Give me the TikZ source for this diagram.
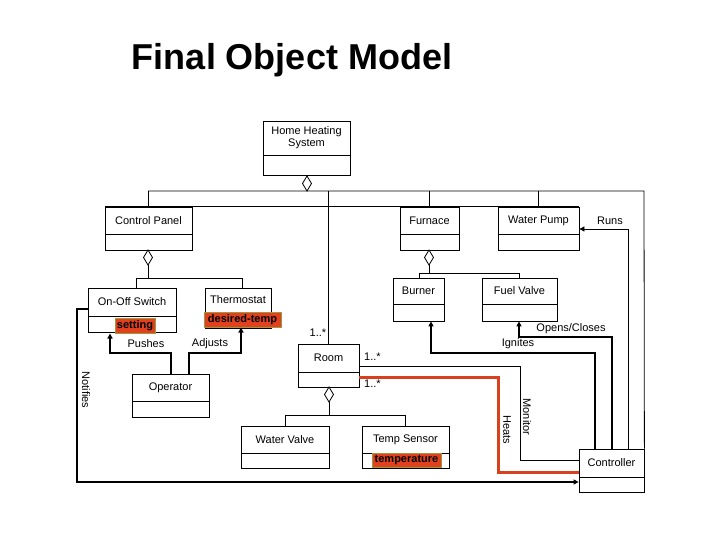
\documentclass[tikz,border=0pt]{standalone}
\usepackage{fontspec}
\setmainfont{Liberation Sans}
\usetikzlibrary{arrows.meta,fit}
\definecolor{hl}{HTML}{E2401E}
\definecolor{hlb}{HTML}{9A9A40}
\definecolor{heat}{HTML}{D9401E}
\tikzset{
  lbl/.style={font=\fontsize{11}{13}\selectfont, inner sep=0pt},
  box/.style={draw, inner sep=0pt, line width=0.8pt},
  thin/.style={line width=0.8pt},
  thick2/.style={line width=2pt},
  arr/.style={-{Triangle[length=5pt,width=5pt]}},
  dia/.style={draw, fill=white, line width=0.8pt},
  hlbox/.style={fill=hl, draw=hlb, line width=0.6pt, inner sep=0pt, font=\bfseries\fontsize{11}{13}\selectfont},
}
\newcommand\umlbox[7]{%
  \node[box, fit={(#2,#3)(#4,#5)}] (#1) {};
  \draw[thin] (#2,#6) -- (#4,#6);
  \node[lbl, align=center] (#1t) at ({(#2+#4)/2},{(#3+#6)/2}) {#7};
}
\newcommand\dmd[3]{% x, ytop, ybottom
  \draw[dia] (#1,#2) -- (#1+4.5,{(#2+#3)/2}) -- (#1,#3) -- (#1-4.5,{(#2+#3)/2}) -- cycle;
}
\begin{document}
\begin{tikzpicture}[x=1pt,y=-1pt]
\useasboundingbox (0,0) rectangle (720,540);
\fill[white] (0,0) rectangle (720,540);
\node[font=\bfseries\fontsize{36}{40}\selectfont] (title) at (292,60) {Final Object Model};

\umlbox{hhs}{263}{121}{350}{175}{155}{Home Heating\\[-1pt]System}
\umlbox{cp}{105}{207}{192}{250}{234}{Control Panel}
\umlbox{fur}{400}{207}{459}{250}{234}{Furnace}
\umlbox{wp}{498}{207}{579}{250}{234}{Water Pump}
\umlbox{oo}{88}{288}{176}{332}{316}{On-Off Switch}
\umlbox{th}{205}{288}{271}{328}{312}{Thermostat}
\umlbox{bur}{393}{278}{444}{321}{304}{Burner}
\umlbox{fv}{482}{278}{557}{321}{304}{Fuel Valve}
\umlbox{room}{298}{344}{359}{387}{372}{Room}
\umlbox{op}{132}{374}{209}{417}{401}{Operator}
\umlbox{wv}{241}{426}{329}{468}{453}{Water Valve}
\umlbox{ts}{362}{426}{449}{468}{453}{Temp Sensor}
\umlbox{ctl}{579}{449}{644}{492}{477}{Controller}

\node[hlbox, minimum width=40pt, minimum height=15pt] (setting) at (135,325.5) {setting};
\node[hlbox, minimum width=77pt, minimum height=15pt] (dtemp) at (242.5,319.5) {desired-temp};
\node[hlbox, minimum width=69pt, minimum height=14pt] (temp) at (406.5,460) {temperature};

% aggregation tree from Home Heating System
\draw[thin] (hhs.south -| 307,0) -- (307,191);
\draw[thin] (148,191) -- (644,191) -- (ctl.north east);
\foreach \x in {148,429,538} \draw[thin] (\x,191) -- (\x,207);
\draw[thin] (cp.north west) -- (wp.north east);
\draw[thin] (328,191) -- (328,344);
\dmd{307}{176}{191}

% Control Panel parts
\draw[thin] (148,265) -- (148,278);
\draw[thin] (136,288) -- (136,278) -- (242,278) -- (242,288);
\dmd{148}{250}{265}
% Furnace parts
\draw[thin] (429,265) -- (429,273);
\draw[thin] (419,278) -- (419,273) -- (519,273) -- (519,278);
\dmd{429}{250}{265}
% Room parts
\draw[thin] (329,402) -- (329,415);
\draw[thin] (285,426) -- (285,415) -- (405,415) -- (405,426);
\dmd{329}{387}{402}

% associations
\draw[thick2,arr] (171,374) -- (171,353) -- (110,353) -- (110,333.5);
\draw[thick2,arr] (189,374) -- (189,353) -- (241,353) -- (241,327.5);
\draw[thick2,arr] (595,449) -- (595,353) -- (431,353) -- (bur.south -| 431,0);
\draw[thick2,arr] (612,449) -- (612,337) -- (519,337) -- (fv.south -| 519,0);
\draw[thin,arr] (628,449) -- (628,229) -- (wp.east |- 0,229);
\draw[thin] (359,366) -- (520,366) -- (520,460) -- (579,460);
\draw[heat,line width=3pt] (359,377) -- (498,377) -- (498,472) -- (579,472);
\draw[thick2,arr] (oo.west |- 0,309) -- (77,309) -- (77,482) -- (ctl.west |- 0,482);

% labels
\node[lbl] (l1) at (318,333) {1..*};
\node[lbl, anchor=west] (l2) at (364,357) {1..*};
\node[lbl, anchor=west] (l3) at (364,384) {1..*};
\node[lbl] (lpush) at (146,344) {Pushes};
\node[lbl] (ladj) at (210,344) {Adjusts};
\node[lbl] (lign) at (518,344) {Ignites};
\node[lbl] (lopen) at (571,329) {Opens/Closes};
\node[lbl] (lruns) at (610,221) {Runs};
\node[lbl, rotate=-90] (lmon) at (527,417) {Monitor};
\node[lbl, rotate=-90] (lheat) at (507,430) {Heats};
\node[lbl, rotate=-90] (lnot) at (86,390) {Notifies};
\end{tikzpicture}
\end{document}
